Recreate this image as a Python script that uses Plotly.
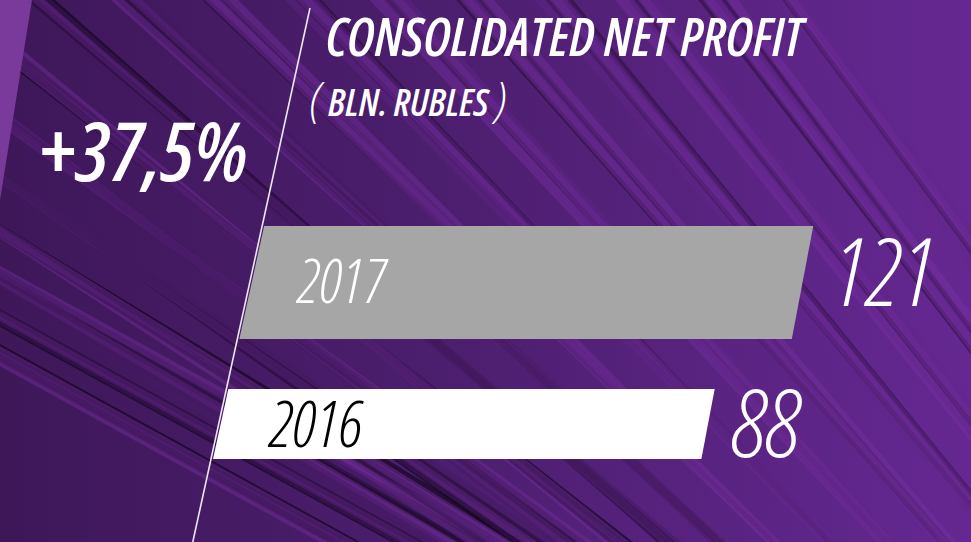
import plotly.graph_objects as go

# data
years = ["2017", "2016"]
profit = [121, 88]          # bln. rubles
growth_label = "+37,5%"
title_text = "CONSOLIDATED NET PROFIT"
unit_text = "BLN. RUBLES"

W, H = 971, 542

# value axis: px = X0 + K * value
K = 2.864
X0 = 456.0


def vx(px):
    # pixel column -> value-axis coordinate
    return (px - X0) / K


# slanted divider line (pixel space)
LINE_TOP = (310, 8)
LINE_SLOPE = -0.2195   # dx per dy


def line_x(py):
    return LINE_TOP[0] + LINE_SLOPE * (py - LINE_TOP[1])


def narrow(txt):
    return f"<span style='font-stretch:condensed'>{txt}</span>"


bar_rows = {"2017": (226, 339), "2016": (389, 459)}
bar_colors = {"2017": "#a6a6a6", "2016": "#ffffff"}
label_colors = {"2017": "#ffffff", "2016": "#000000"}
label_offset = {"2017": 43, "2016": 46}
label_size = {"2017": 61, "2016": 64}
label_yshift = {"2017": 3, "2016": 2}
value_shift = {"2017": (28, 14), "2016": (21, 3)}
value_size = {"2017": 95, "2016": 94}
END_SLANT = 0.19

FONT = "Open Sans, Roboto, sans-serif"

fig = go.Figure()

# background: dark-left to bright-right gradient
fig.add_trace(go.Scatter(x=[vx(0), vx(W), vx(W), vx(0)], y=[0, 0, H, H], fill="toself",
                         mode="lines", line=dict(width=0),
                         fillgradient=dict(type="horizontal",
                                           colorscale=[[0, "#3e1759"], [0.45, "#4c1e6e"], [1, "#652892"]]),
                         hoverinfo="skip", showlegend=False))

# streaky texture
groups = {}
for i in range(84):
    xm = -140 + i * 14
    frac = min(max(xm / W, 0), 1)
    slope = 0.55 + 0.8 * frac          # dy/dx, steeper on the right
    kind = ("dark" if i % 3 == 0 else "light" if i % 3 == 1 else "mid") + ("L" if xm < 480 else "R")
    dx = 520 / slope
    ymid = 271 + (i % 5) * 11
    groups.setdefault(kind, ([], []))
    xs, ys = groups[kind]
    xs += [vx(xm - dx), vx(xm + dx), None]
    ys += [ymid - 520, ymid + 520, None]

streak_styles = {
    "darkL": ("rgba(18,4,28,0.65)", 7),
    "darkR": ("rgba(30,8,45,0.45)", 5),
    "lightL": ("rgba(112,44,152,0.50)", 9),
    "lightR": ("rgba(122,50,166,0.40)", 10),
    "midL": ("rgba(66,24,96,0.45)", 10),
    "midR": ("rgba(98,38,138,0.40)", 10),
}
for kind, (xs, ys) in groups.items():
    col, w = streak_styles[kind]
    fig.add_trace(go.Scatter(x=xs, y=ys, mode="lines", line=dict(color=col, width=w),
                             hoverinfo="skip", showlegend=False))

shapes = [
    # light corner patch
    dict(type="path", xref="paper", yref="paper",
         path=f"M 0 1 L {32 / W} 1 L 0 {1 - 200 / H} Z",
         fillcolor="#7a3a9c", line=dict(width=0)),
    # divider line
    dict(type="line", xref="paper", yref="paper",
         x0=LINE_TOP[0] / W, y0=1 - LINE_TOP[1] / H,
         x1=line_x(H) / W, y1=0,
         line=dict(color="#ece6f2", width=1.6)),
]

for year, val in zip(years, profit):
    top, bot = bar_rows[year]
    mid = (top + bot) / 2
    xs = [vx(line_x(top) + 2), val + END_SLANT * (mid - top) / K,
          val - END_SLANT * (bot - mid) / K, vx(line_x(bot) + 2)]
    ys = [top, top, bot, bot]
    fig.add_trace(go.Scatter(x=xs, y=ys, fill="toself", mode="lines",
                             fillcolor=bar_colors[year], line=dict(width=0),
                             hoverinfo="skip", showlegend=False))
    # year label inside the bar
    fig.add_annotation(x=vx(line_x(mid) + label_offset[year]), y=mid, text=narrow(year),
                       showarrow=False, xanchor="left", yanchor="middle",
                       yshift=label_yshift[year],
                       font=dict(family=FONT, size=label_size[year], color=label_colors[year],
                                 style="italic", weight=300))
    # value label at bar end
    xs_, ys_ = value_shift[year]
    fig.add_annotation(x=val, y=mid, text=narrow(val), showarrow=False,
                       xanchor="left", yanchor="middle", xshift=xs_, yshift=ys_,
                       font=dict(family=FONT, size=value_size[year], color="#ffffff",
                                 style="italic", weight=300))

fig.add_annotation(x=37 / W, y=1 - 149 / H, xref="paper", yref="paper", text=narrow(growth_label),
                   showarrow=False, xanchor="left", yanchor="middle",
                   font=dict(family=FONT, size=82, color="#ffffff", style="italic", weight=600))

fig.add_annotation(x=324 / W, y=1 - 35 / H, xref="paper", yref="paper", text=narrow(title_text),
                   showarrow=False, xanchor="left", yanchor="middle",
                   font=dict(family=FONT, size=53, color="#ffffff", style="italic", weight=600))

fig.add_annotation(x=308 / W, y=1 - 97 / H, xref="paper", yref="paper",
                   text=narrow("<span style='font-size:48px;font-weight:300'>(</span> "
                               + unit_text +
                               " <span style='font-size:48px;font-weight:300'>)</span>"),
                   showarrow=False, xanchor="left", yanchor="middle",
                   font=dict(family=FONT, size=38, color="#ffffff", style="italic", weight=600))

fig.update_layout(
    width=W, height=H,
    margin=dict(l=0, r=0, t=0, b=0),
    paper_bgcolor="#4a1f6b",
    plot_bgcolor="rgba(0,0,0,0)",
    shapes=shapes,
    xaxis=dict(range=[vx(0), vx(W)], visible=False, fixedrange=True),
    yaxis=dict(range=[H, 0], visible=False, fixedrange=True),
    showlegend=False,
)

fig.write_html("out.html", post_script="document.body.style.margin='0';",
               config={"displayModeBar": False})
